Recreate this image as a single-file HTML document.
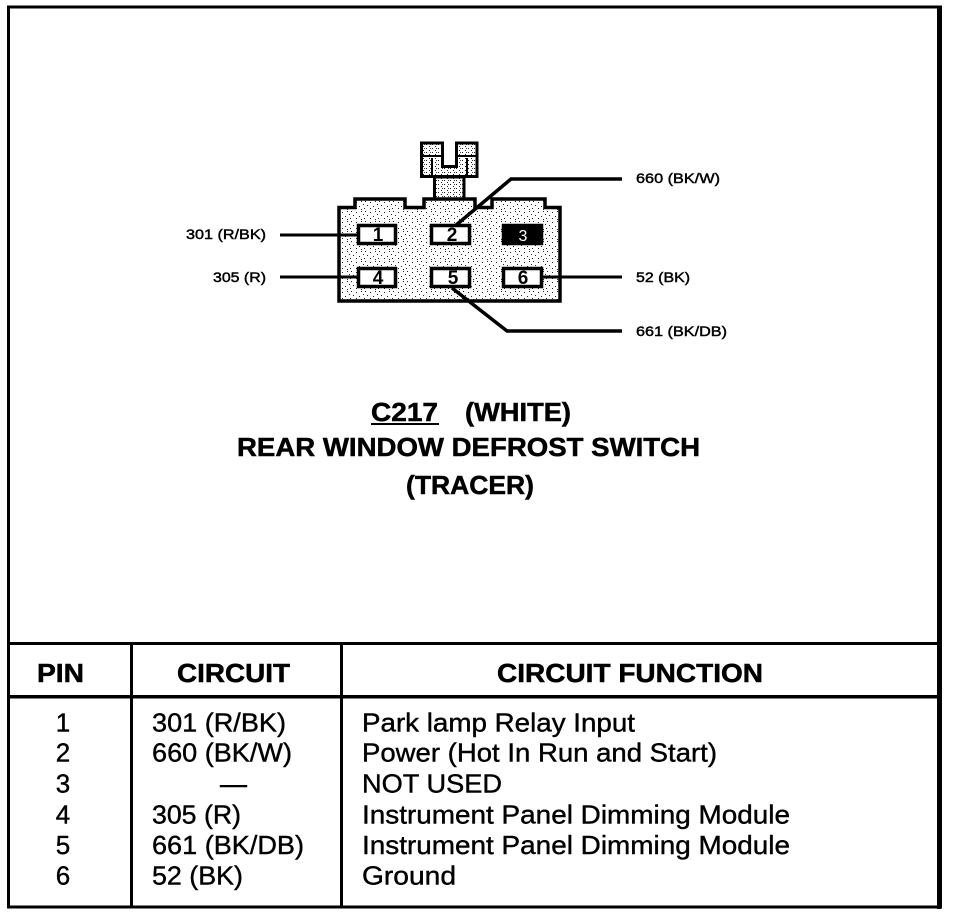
<!DOCTYPE html>
<html>
<head>
<meta charset="utf-8">
<style>
html,body{margin:0;padding:0;background:#fff;width:960px;height:916px;overflow:hidden}
svg{display:block}
text{font-family:"Liberation Sans",sans-serif;fill:#000}
.s{font-size:14px;stroke:#000;stroke-width:.45px}
.t{font-size:26px;stroke:#000;stroke-width:.4px}
.h{font-size:26px;font-weight:bold;stroke:#000;stroke-width:.5px}
.n{font-size:19px;font-weight:bold}
</style>
</head>
<body>
<svg width="960" height="916" viewBox="0 0 960 916" xmlns="http://www.w3.org/2000/svg">
<defs>
<pattern id="st" width="14" height="10" patternUnits="userSpaceOnUse">
<rect width="14" height="10" fill="#fff"/>
<rect x="1" y="1" width="1" height="1" fill="#222"/>
<rect x="6" y="2" width="1" height="1" fill="#222"/>
<rect x="11" y="1" width="1" height="1" fill="#222"/>
<rect x="3" y="5" width="1" height="1" fill="#222"/>
<rect x="9" y="6" width="1" height="1" fill="#222"/>
<rect x="13" y="4" width="1" height="1" fill="#222"/>
<rect x="0" y="8" width="1" height="1" fill="#222"/>
<rect x="6" y="8" width="1" height="1" fill="#222"/>
<rect x="11" y="9" width="1" height="1" fill="#222"/>
</pattern>
<pattern id="st2" width="6" height="4" patternUnits="userSpaceOnUse">
<rect width="6" height="4" fill="#fff"/>
<rect x="0" y="0" width="1" height="1" fill="#222"/>
<rect x="3" y="2" width="1" height="1" fill="#222"/>
<rect x="4" y="0" width="1" height="1" fill="#444"/>
</pattern>
</defs>

<!-- outer frame -->
<rect x="8.5" y="7" width="932" height="900" fill="#fff" stroke="#000" stroke-width="3"/>
<rect x="937" y="7" width="4" height="902" fill="#000"/>

<!-- table lines -->
<rect x="8" y="642" width="932" height="3" fill="#000"/>
<rect x="8" y="695" width="932" height="3.500" fill="#000"/>
<rect x="130" y="642" width="3" height="265" fill="#000"/>
<rect x="340" y="642" width="3" height="265" fill="#000"/>

<!-- latch -->
<path d="M421.500 143H442.500V166.500H456.500V143H477V176.500H421.500Z" fill="url(#st2)" stroke="#000" stroke-width="3"/>
<path d="M421 156H443M456 156H478M432 158V176M467 158V176" fill="none" stroke="#000" stroke-width="2"/>
<path d="M434.500 177H464V200H434.500Z" fill="url(#st2)" stroke="#000" stroke-width="3"/>

<!-- connector body -->
<path d="M339 207.500H355V199H405V207.500H424V199H475V207.500H492V199H545V207.500H560V301H339Z" fill="url(#st)" stroke="#000" stroke-width="3.500"/>

<!-- wires -->
<path d="M280 235H358M280 277H358M541 277H622" fill="none" stroke="#000" stroke-width="3"/>
<path d="M455 226L511 179H622" fill="none" stroke="#000" stroke-width="3.500"/>
<path d="M452 288L507 331H622" fill="none" stroke="#000" stroke-width="3.500"/>

<!-- pins -->
<rect x="358.500" y="225.500" width="37" height="18" fill="#fff" stroke="#000" stroke-width="3.500"/>
<rect x="431.500" y="225.500" width="38" height="18" fill="#fff" stroke="#000" stroke-width="3.500"/>
<rect x="503.500" y="225.500" width="38" height="18" fill="#000" stroke="#000" stroke-width="3.500"/>
<rect x="358.500" y="268.500" width="37" height="18" fill="#fff" stroke="#000" stroke-width="3.500"/>
<rect x="431.500" y="268.500" width="38" height="18" fill="#fff" stroke="#000" stroke-width="3.500"/>
<rect x="503.500" y="268.500" width="38" height="18" fill="#fff" stroke="#000" stroke-width="3.500"/>
<text class="n" x="378" y="241" text-anchor="middle">1</text>
<text class="n" x="452" y="241" text-anchor="middle">2</text>
<text x="523" y="241" text-anchor="middle" style="font-size:16px;fill:#fff">3</text>
<text class="n" x="378" y="284" text-anchor="middle">4</text>
<text class="n" x="453" y="284" text-anchor="middle">5</text>
<text class="n" x="523" y="284" text-anchor="middle">6</text>

<!-- wire labels -->
<text class="s" x="186" y="239" textLength="80" lengthAdjust="spacingAndGlyphs">301 (R/BK)</text>
<text class="s" x="213" y="282" textLength="53" lengthAdjust="spacingAndGlyphs">305 (R)</text>
<text class="s" x="636" y="183" textLength="84" lengthAdjust="spacingAndGlyphs">660 (BK/W)</text>
<text class="s" x="636" y="282" textLength="54" lengthAdjust="spacingAndGlyphs">52 (BK)</text>
<text class="s" x="636" y="336" textLength="91" lengthAdjust="spacingAndGlyphs">661 (BK/DB)</text>

<!-- title -->
<text class="h" x="371" y="421" textLength="67" lengthAdjust="spacingAndGlyphs">C217</text>
<rect x="371" y="423" width="68" height="2" fill="#000"/>
<text class="h" x="465" y="421" textLength="106" lengthAdjust="spacingAndGlyphs">(WHITE)</text>
<text class="h" x="237" y="456" textLength="463" lengthAdjust="spacingAndGlyphs">REAR WINDOW DEFROST SWITCH</text>
<text class="h" x="406" y="494" textLength="128" lengthAdjust="spacingAndGlyphs">(TRACER)</text>

<!-- table header -->
<text class="h" x="37" y="682" textLength="47" lengthAdjust="spacingAndGlyphs">PIN</text>
<text class="h" x="177" y="682" textLength="113" lengthAdjust="spacingAndGlyphs">CIRCUIT</text>
<text class="h" x="497" y="682" textLength="266" lengthAdjust="spacingAndGlyphs">CIRCUIT FUNCTION</text>

<!-- pins column -->
<text class="t" x="63" y="731.500" text-anchor="middle">1</text>
<text class="t" x="63" y="761.500" text-anchor="middle">2</text>
<text class="t" x="63" y="792.500" text-anchor="middle">3</text>
<text class="t" x="63" y="823.500" text-anchor="middle">4</text>
<text class="t" x="63" y="854" text-anchor="middle">5</text>
<text class="t" x="63" y="884.500" text-anchor="middle">6</text>

<!-- circuit column -->
<text class="t" x="152" y="731.500" textLength="134" lengthAdjust="spacingAndGlyphs">301 (R/BK)</text>
<text class="t" x="152" y="761.500" textLength="140" lengthAdjust="spacingAndGlyphs">660 (BK/W)</text>
<text class="t" x="220" y="792.500" textLength="27" lengthAdjust="spacingAndGlyphs">—</text>
<text class="t" x="152" y="823.500" textLength="89" lengthAdjust="spacingAndGlyphs">305 (R)</text>
<text class="t" x="152" y="854" textLength="152" lengthAdjust="spacingAndGlyphs">661 (BK/DB)</text>
<text class="t" x="152" y="884.500" textLength="91" lengthAdjust="spacingAndGlyphs">52 (BK)</text>

<!-- function column -->
<text class="t" x="362" y="731.500" textLength="273" lengthAdjust="spacingAndGlyphs">Park lamp Relay Input</text>
<text class="t" x="362" y="761.500" textLength="355" lengthAdjust="spacingAndGlyphs">Power (Hot In Run and Start)</text>
<text class="t" x="362" y="792.500" textLength="140" lengthAdjust="spacingAndGlyphs">NOT USED</text>
<text class="t" x="362" y="823.500" textLength="428" lengthAdjust="spacingAndGlyphs">Instrument Panel Dimming Module</text>
<text class="t" x="362" y="854" textLength="428" lengthAdjust="spacingAndGlyphs">Instrument Panel Dimming Module</text>
<text class="t" x="362" y="884.500" textLength="94" lengthAdjust="spacingAndGlyphs">Ground</text>
</svg>
</body>
</html>
